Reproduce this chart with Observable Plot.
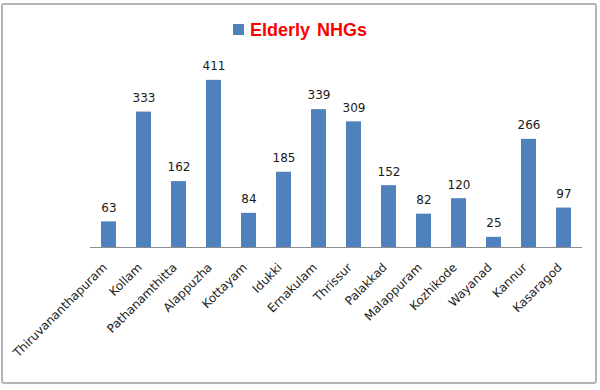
<!DOCTYPE html>
<html>
<head>
<meta charset="utf-8">
<script src="https://cdn.jsdelivr.net/npm/d3@7"></script>
<script src="https://cdn.jsdelivr.net/npm/@observablehq/plot@0.6"></script>
<style>
  html, body { margin: 0; padding: 0; background: #fff; }
  body { width: 600px; height: 390px; position: relative; overflow: hidden; }
  #frame { position: absolute; left: 1px; top: 3px; width: 592px; height: 377px;
           border: 2px solid #b3b3b3; border-radius: 3px; pointer-events: none; }
  #legend { height: 48px; position: relative; font-family: "Liberation Sans", Arial, sans-serif; }
  #legend .sw { position: absolute; left: 233px; top: 24px; width: 11px; height: 11px; background: #4F81BD; }
  #legend .lab { position: absolute; left: 250px; top: 20px; font-size: 18px; font-weight: bold; color: #ff0000; line-height: 20px; word-spacing: 2px; white-space: nowrap; }
  #chart svg { display: block; }
</style>
</head>
<body>
<div id="legend"><div class="sw"></div><div class="lab">Elderly NHGs</div></div>
<div id="chart"></div>
<div id="frame"></div>
<script>
const districts = ["Thiruvananthapuram", "Kollam", "Pathanamthitta", "Alappuzha", "Kottayam", "Idukki", "Ernakulam", "Thrissur", "Palakkad", "Malappuram", "Kozhikode", "Wayanad", "Kannur", "Kasaragod"];
const elderlyNHGs = [63, 333, 162, 411, 84, 185, 339, 309, 152, 82, 120, 25, 266, 97];

const data = districts.map((d, i) => ({district: d, value: elderlyNHGs[i]}));

const chart = Plot.plot({
  width: 600,
  height: 342,
  marginLeft: 90,
  marginRight: 18,
  marginTop: 16,
  marginBottom: 143,
  style: {fontFamily: "DejaVu Sans, Verdana, sans-serif", fontSize: "12px", color: "#222"},
  x: {domain: districts, paddingInner: 0.58, paddingOuter: 0.3},
  y: {domain: [0, 450], axis: null},
  marks: [
    Plot.barY(data, {x: "district", y: "value", fill: "#4F81BD"}),
    Plot.ruleY([0], {stroke: "#8c8c8c", strokeWidth: 1}),
    Plot.axisX({tickSize: 0, tickRotate: -45, tickPadding: 12, label: null, dx: -4, dy: 6, fill: "#222"}),
    Plot.text(data, {x: "district", y: "value", text: d => String(d.value), dy: -14, fill: "#1a1a1a", fontSize: 12})
  ]
});
document.getElementById("chart").appendChild(chart);
</script>
</body>
</html>
